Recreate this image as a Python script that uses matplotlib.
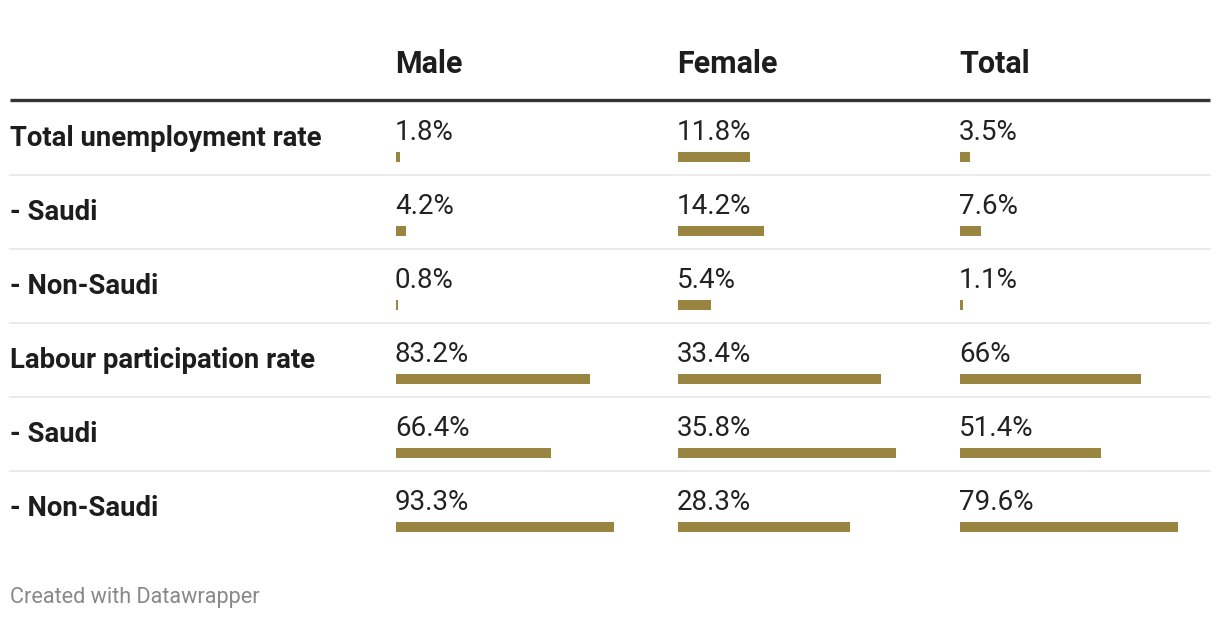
import matplotlib.pyplot as plt
from matplotlib.patches import Rectangle

plt.rcParams['font.family'] = ['Roboto', 'DejaVu Sans']

columns = ['Male', 'Female', 'Total']
rows = ['Total unemployment rate', '- Saudi', '- Non-Saudi',
        'Labour participation rate', '- Saudi', '- Non-Saudi']
male = [1.8, 4.2, 0.8, 83.2, 66.4, 93.3]
female = [11.8, 14.2, 5.4, 33.4, 35.8, 28.3]
total = [3.5, 7.6, 1.1, 66, 51.4, 79.6]
labels = [['1.8%', '4.2%', '0.8%', '83.2%', '66.4%', '93.3%'],
          ['11.8%', '14.2%', '5.4%', '33.4%', '35.8%', '28.3%'],
          ['3.5%', '7.6%', '1.1%', '66%', '51.4%', '79.6%']]

bar_color = '#998540'
col_x = [396, 678, 960]
bar_w = 218
row_h = 74

fig = plt.figure(figsize=(12.2, 6.2), dpi=100)
ax = fig.add_axes([0, 0, 1, 1])
ax.set_xlim(0, 1220)
ax.set_ylim(620, 0)
ax.axis('off')

# header
for c, x in zip(columns, col_x):
    ax.text(x - 1, 64, c, fontsize=22, fontweight='bold', color='#1d1d1d', va='center', ha='left')
ax.plot([10, 1210], [100, 100], color='#333333', lw=2.4, solid_capstyle='butt')

data = [male, female, total]
for i, r in enumerate(rows):
    y0 = row_h * i
    ax.text(10, 139 + y0, r, fontsize=19.8, fontweight='bold', color='#1d1d1d', va='center', ha='left')
    for j, vals in enumerate(data):
        mx = max(vals)
        ax.text(col_x[j] - 1, 140 + y0, labels[j][i], fontsize=20, color='#222222', va='baseline', ha='left')
        w = vals[i] / mx * bar_w
        ax.add_patch(Rectangle((col_x[j], 152 + y0), max(w, 2), 10, color=bar_color, lw=0))
    if i < len(rows) - 1:
        ax.plot([10, 1210], [175 + y0, 175 + y0], color='#e8e8e8', lw=1.2)

ax.text(10, 597, 'Created with Datawrapper', fontsize=15.6, color='#888888', va='center', ha='left')

fig.savefig('out.png', dpi=100)
